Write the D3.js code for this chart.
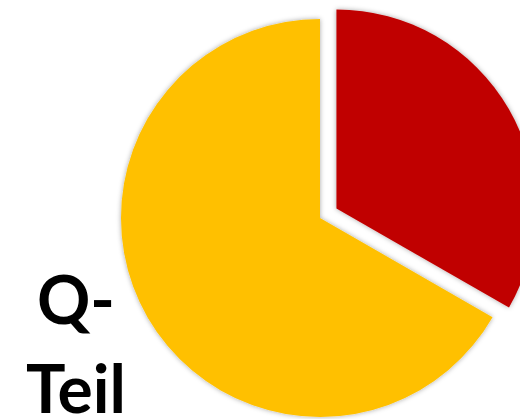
<!DOCTYPE html>
<html>
<head>
<meta charset="utf-8">
<script src="https://cdn.jsdelivr.net/npm/d3@7"></script>
<style>
  body { margin: 0; background: #fff; }
</style>
</head>
<body>
<div id="chart-area"></div>
<script>
// data
var labels = ["Q-Teil", "Rest"];
var values = [33.3, 66.7];
var colors = ["#C00000", "#FFC000"];
var explode = [19, 0];
var titleLines = ["Q-", "Teil"];

var width = 520, height = 419;
var cx = 320, cy = 218, radius = 199;

var svg = d3.select("#chart-area").append("svg")
	.attr("width", width)
	.attr("height", height);

var defs = svg.append("defs");
var filter = defs.append("filter").attr("id", "shadow")
	.attr("x", "-10%").attr("y", "-10%").attr("width", "120%").attr("height", "120%");
filter.append("feDropShadow").attr("dx", 0).attr("dy", 0)
	.attr("stdDeviation", 2.5).attr("flood-color", "#000").attr("flood-opacity", 0.35);

var pie = d3.pie().sort(null).value(function(d) { return d; });
var arc = d3.arc().innerRadius(0).outerRadius(radius);

var g = svg.append("g").attr("transform", "translate(" + cx + "," + cy + ")");

g.selectAll("path")
	.data(pie(values))
	.enter().append("path")
	.attr("d", arc)
	.attr("fill", function(d, i) { return colors[i]; })
	.attr("filter", "url(#shadow)")
	.attr("transform", function(d, i) {
		var a = (d.startAngle + d.endAngle) / 2;
		return "translate(" + (Math.sin(a) * explode[i]) + "," + (-Math.cos(a) * explode[i]) + ")";
	});

svg.selectAll("text.title")
	.data(titleLines)
	.enter().append("text")
	.attr("class", "title")
	.attr("x", 76)
	.attr("y", function(d, i) { return 324 + i * 89; })
	.attr("text-anchor", "middle")
	.attr("font-family", "Lato, 'Open Sans', sans-serif")
	.attr("font-weight", "bold")
	.attr("font-size", 66)
	.attr("fill", "#000")
	.text(function(d) { return d; });
</script>
</body>
</html>
